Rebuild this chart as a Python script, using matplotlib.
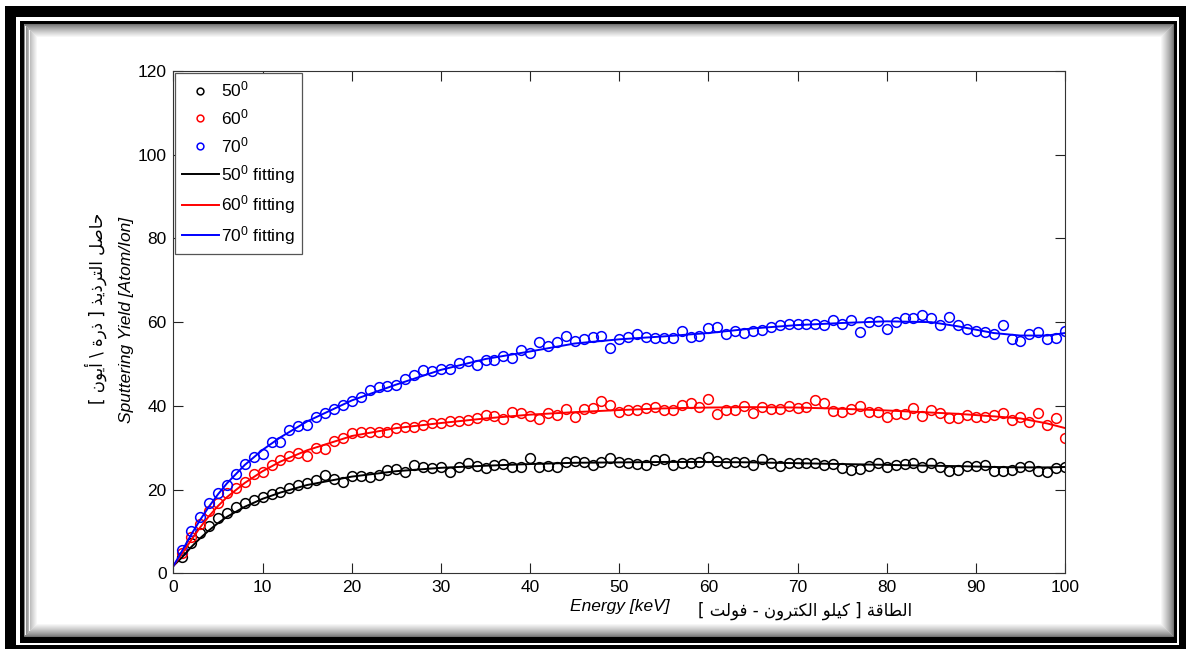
import unicodedata
import matplotlib
matplotlib.use("Agg")
import matplotlib.pyplot as plt
from matplotlib.patches import Rectangle

# ---------------- data ----------------
energy = list(range(1, 101))

yield_50 = [3.8, 7.3, 9.6, 11.2, 13.2, 14.5, 15.8, 16.9, 17.6, 18.2,
            19.0, 19.4, 20.4, 21.1, 21.5, 22.2, 23.4, 22.5, 21.7, 23.3,
            23.3, 23.1, 23.5, 24.7, 25.0, 24.3, 25.9, 25.5, 25.1, 25.5,
            24.3, 25.4, 26.3, 25.7, 25.1, 25.9, 26.1, 25.5, 25.5, 27.6,
            25.5, 25.6, 25.3, 26.5, 26.8, 26.5, 25.9, 26.5, 27.5, 26.7,
            26.3, 26.1, 25.9, 27.1, 27.3, 25.9, 26.3, 26.3, 26.5, 27.9,
            26.9, 26.3, 26.5, 26.7, 25.9, 27.2, 26.3, 25.7, 26.4, 26.4,
            26.4, 26.3, 25.9, 26.0, 25.1, 24.7, 24.9, 25.7, 26.3, 25.5,
            25.9, 26.1, 26.3, 25.5, 26.3, 25.5, 24.5, 24.7, 25.7, 25.7,
            25.9, 24.5, 24.5, 24.7, 25.5, 25.7, 24.5, 24.3, 25.1, 25.5]

yield_60 = [4.8, 8.6, 11.8, 15.0, 16.9, 19.2, 20.4, 21.9, 23.8, 24.3,
            25.9, 27.1, 28.1, 28.7, 28.1, 29.9, 29.7, 31.5, 32.3, 33.4,
            33.8, 33.7, 33.8, 33.7, 34.7, 35.0, 35.0, 35.4, 35.8, 35.9,
            36.3, 36.3, 36.6, 37.0, 37.8, 37.6, 36.9, 38.5, 38.2, 37.6,
            36.8, 38.2, 37.9, 39.3, 37.3, 39.3, 39.4, 41.1, 40.2, 38.6,
            39.0, 39.0, 39.4, 39.7, 39.0, 38.9, 40.2, 40.6, 39.7, 41.6,
            38.0, 39.0, 38.9, 40.0, 38.2, 39.8, 39.2, 39.2, 40.0, 39.4,
            39.8, 41.4, 40.6, 38.8, 38.6, 39.2, 40.0, 38.6, 38.6, 37.3,
            38.1, 38.1, 39.4, 37.6, 38.9, 38.4, 37.0, 37.0, 37.8, 37.3,
            37.4, 37.8, 38.4, 36.6, 37.3, 36.2, 38.2, 35.4, 37.0, 32.3]

yield_70 = [5.6, 10.0, 13.4, 16.8, 19.3, 21.2, 23.8, 26.2, 27.8, 28.6,
            31.3, 31.4, 34.3, 35.2, 35.4, 37.3, 38.3, 39.3, 40.1, 41.1,
            42.0, 43.9, 44.5, 44.7, 44.9, 46.3, 47.3, 48.5, 48.3, 48.9,
            48.9, 50.3, 50.8, 49.7, 50.9, 51.0, 51.8, 51.4, 53.3, 52.6,
            55.2, 54.2, 55.3, 56.8, 55.5, 56.0, 56.4, 56.6, 53.8, 56.0,
            56.4, 57.2, 56.4, 56.1, 56.1, 56.1, 57.8, 56.4, 56.8, 58.5,
            58.8, 57.2, 57.9, 57.4, 57.9, 58.2, 58.8, 59.2, 59.6, 59.6,
            59.6, 59.6, 59.2, 60.4, 59.6, 60.4, 57.6, 60.0, 60.2, 58.4,
            60.0, 60.9, 61.0, 61.8, 61.0, 59.2, 61.2, 59.4, 58.4, 58.0,
            57.6, 57.2, 59.2, 56.0, 55.6, 57.2, 57.6, 56.0, 56.2, 57.8]

fit_energy = [0, 1, 2, 3, 4, 5, 6, 8, 10, 12, 15, 20, 25, 30, 35, 40, 45, 50,
              55, 60, 65, 70, 75, 80, 85, 88, 90, 92, 95, 98, 100]
fit_50 = [1.8, 3.9, 6.3, 8.4, 10.3, 12.0, 13.5, 15.9, 17.8, 19.3, 21.1, 23.1,
          24.4, 25.2, 25.7, 26.1, 26.4, 26.5, 26.6, 26.6, 26.5, 26.3, 26.1,
          25.9, 25.7, 25.6, 25.5, 25.4, 25.3, 25.3, 25.4]
fit_60 = [1.8, 4.8, 8.0, 11.0, 13.7, 16.1, 18.2, 21.6, 24.4, 26.7, 29.4, 32.8,
          34.7, 35.9, 37.0, 37.9, 38.5, 39.0, 39.4, 39.6, 39.7, 39.6, 39.3,
          38.9, 38.4, 38.1, 37.8, 37.5, 37.0, 35.8, 34.7]
fit_70 = [1.8, 5.5, 9.3, 12.8, 16.0, 18.9, 21.5, 25.9, 29.5, 32.5, 36.3, 41.3,
          45.1, 48.6, 51.2, 53.0, 54.9, 55.9, 56.6, 57.4, 58.5, 59.3, 59.8,
          60.2, 60.0, 59.0, 58.2, 57.4, 56.8, 56.8, 57.4]

series_labels = ["50$^0$", "60$^0$", "70$^0$"]
fit_labels = ["50$^0$ fitting", "60$^0$ fitting", "70$^0$ fitting"]
x_ticks = [0, 10, 20, 30, 40, 50, 60, 70, 80, 90, 100]
y_ticks = [0, 20, 40, 60, 80, 100, 120]
x_label_en = "Energy [keV]"
x_label_ar = "الطاقة [ كيلو الكترون - فولت ]"
y_label_en = "Sputtering Yield [Atom/Ion]"
y_label_ar = "حاصل الترذيذ [ ذرة \\ أيون ]"


# ------------- minimal Arabic shaping (presentation forms + visual order) -------------
def _arabic_forms():
    tbl = {}
    for cp in range(0xFE70, 0xFF00):
        d = unicodedata.decomposition(chr(cp))
        if not d.startswith("<"):
            continue
        parts = d.split()
        if len(parts) != 2:
            continue
        tag = parts[0].strip("<>")
        base = chr(int(parts[1], 16))
        tbl.setdefault(base, {})[tag] = chr(cp)
    return tbl


_FORMS = _arabic_forms()


def shape_arabic(s):
    def dual(c):
        return c in _FORMS and "initial" in _FORMS[c]
    out = []
    for i, c in enumerate(s):
        if c not in _FORMS:
            out.append(c)
            continue
        p = s[i - 1] if i > 0 else ""
        n = s[i + 1] if i + 1 < len(s) else ""
        jp = dual(p)
        jn = dual(c) and (n in _FORMS)
        if jp and jn:
            form = "medial"
        elif jp:
            form = "final"
        elif jn:
            form = "initial"
        else:
            form = "isolated"
        f = _FORMS[c]
        out.append(f.get(form, f.get("isolated", c)))
    mirror = {"[": "]", "]": "[", "(": ")", ")": "("}
    return "".join(mirror.get(ch, ch) for ch in reversed(out))


# ---------------- figure ----------------
plt.rcParams["font.family"] = ["Liberation Sans", "DejaVu Sans"]
plt.rcParams["mathtext.fontset"] = "custom"
plt.rcParams["mathtext.rm"] = "Liberation Sans"
plt.rcParams["mathtext.it"] = "Liberation Sans:italic"

W, H = 1186, 649
fig = plt.figure(figsize=(W / 100, H / 100), dpi=100)
fig.patch.set_facecolor("white")


def fx(x):
    return x / W


def fy(y):
    return 1 - y / H


def frect(x0, y0, x1, y1, **kw):
    fig.add_artist(Rectangle((fx(x0), fy(y1)), fx(x1) - fx(x0), fy(y0) - fy(y1),
                             transform=fig.transFigure, **kw))


# outer thick black band
frect(5, 6, 1186, 17, facecolor="black", edgecolor="none")
frect(5, 6, 16, 649, facecolor="black", edgecolor="none")
frect(1179, 6, 1186, 649, facecolor="black", edgecolor="none")
frect(5, 645, 1186, 649, facecolor="black", edgecolor="none")
# inner black band
frect(20, 21, 1177, 24, facecolor="black", edgecolor="none")
frect(20, 21, 23.5, 643, facecolor="black", edgecolor="none")
frect(1173, 21, 1177, 643, facecolor="black", edgecolor="none")
frect(20, 636, 1177, 643, facecolor="black", edgecolor="none")
# shadow gradient inside inner band
for k in range(14):
    g = 0.45 + 0.55 * (k / 13.0) ** 0.8
    frect(23.5 + k, 24 + k, 1173 - k, 636 - k, facecolor="none",
          edgecolor=(g, g, g), linewidth=0.75)

ax = fig.add_axes([fx(173.5), fy(573.3), fx(1065) - fx(173.5), fy(71) - fy(573.3)])

colors = ["black", "#ff0000", "#0000ff"]
for yv, c, lab in zip([yield_50, yield_60, yield_70], colors, series_labels):
    ax.plot(energy, yv, linestyle="none", marker="o", markersize=7,
            markerfacecolor="none", markeredgecolor=c, markeredgewidth=1.1, label=lab)
for fv, c, lab in zip([fit_50, fit_60, fit_70], colors, fit_labels):
    ax.plot(fit_energy, fv, color=c, linewidth=1.4, label=lab)

ax.set_xlim(0, 100)
ax.set_ylim(0, 120)
ax.set_xticks(x_ticks)
ax.set_yticks(y_ticks)
ax.tick_params(direction="in", top=True, right=True, length=7, width=0.8,
               labelsize=12.5, colors="#222222", labelcolor="black", pad=5)
for sp in ax.spines.values():
    sp.set_color("#333333")
    sp.set_linewidth(0.8)

leg = ax.legend(loc="upper left", fontsize=12.5, frameon=True, fancybox=False,
                edgecolor="#555555", framealpha=1, borderaxespad=0.1,
                handlelength=2.1, handletextpad=0.15, labelspacing=0.45,
                borderpad=0.4, markerscale=0.7)
leg.get_frame().set_linewidth(0.9)

# axis labels
fig.text(fx(620), fy(607), x_label_en, fontsize=12.5, style="italic",
         ha="center", va="center")
fig.text(fx(805), fy(611), shape_arabic(x_label_ar), fontsize=12,
         ha="center", va="center", family=["DejaVu Sans"])
fig.text(fx(127), fy(320), y_label_en, fontsize=12.5, style="italic",
         rotation=90, ha="center", va="center")
fig.text(fx(96), fy(308), shape_arabic(y_label_ar), fontsize=12,
         rotation=90, ha="center", va="center", family=["DejaVu Sans"])

fig.savefig("out.png", dpi=100)
